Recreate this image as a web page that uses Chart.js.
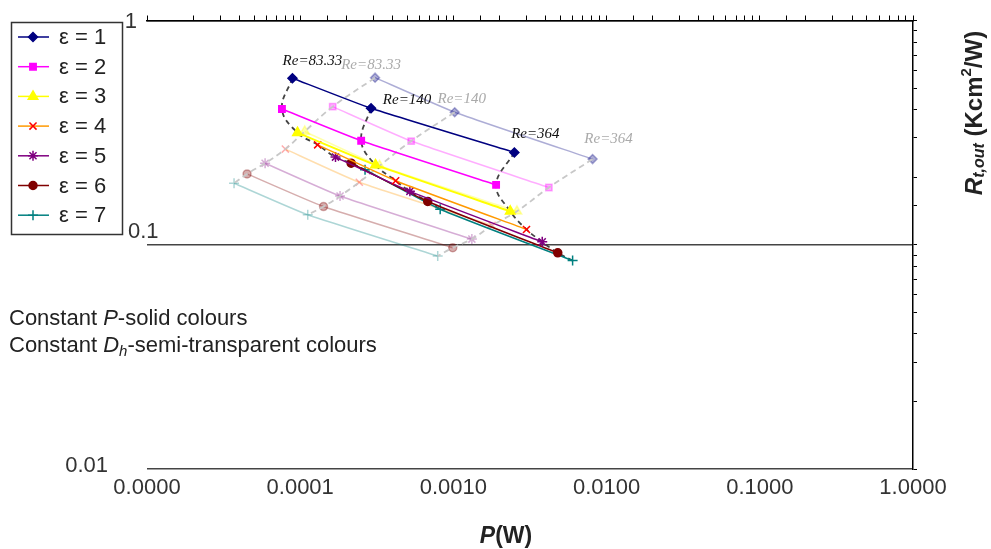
<!DOCTYPE html>
<html>
<head>
<meta charset="utf-8">
<script src="https://cdn.jsdelivr.net/npm/chart.js@4.4.1/dist/chart.umd.min.js"></script>
<style>
  html, body { margin: 0; padding: 0; background: #fff; }
  #wrap { width: 991px; height: 549px; }
</style>
</head>
<body>
<div id="wrap"><canvas id="myChart" width="991" height="549"></canvas></div>
<script>
// series names and Re labels
const epsLabels = ['ε = 1', 'ε = 2', 'ε = 3', 'ε = 4', 'ε = 5', 'ε = 6', 'ε = 7'];
const reLabels = ['Re=83.33', 'Re=140', 'Re=364'];

// axis ticks
const xTickValues = [1e-5, 1e-4, 1e-3, 1e-2, 1e-1, 1];
const yTickValues = [0.01, 0.1, 1];
const yTickLabels = ['0.01', '0.1', '1'];

// constant P (solid colours): P (W) and Rt,out for Re = 83.33, 140, 364
const solidP = [
  [8.9e-5, 2.9e-4, 2.5e-3],
  [7.6e-5, 2.5e-4, 1.9e-3],
  [9.6e-5, 3.1e-4, 2.35e-3],
  [1.3e-4, 4.2e-4, 3.0e-3],
  [1.7e-4, 5.2e-4, 3.8e-3],
  [2.15e-4, 6.8e-4, 4.8e-3],
  [2.65e-4, 8.2e-4, 6.0e-3]
];
const solidR = [
  [0.553, 0.406, 0.258],
  [0.403, 0.291, 0.185],
  [0.316, 0.227, 0.141],
  [0.279, 0.193, 0.117],
  [0.246, 0.173, 0.103],
  [0.231, 0.156, 0.092],
  [0.216, 0.144, 0.085]
];

// constant Dh (semi-transparent colours)
const fadedP = [
  [3.08e-4, 1.02e-3, 8.1e-3],
  [1.63e-4, 5.3e-4, 4.2e-3],
  [1.07e-4, 3.3e-4, 2.6e-3],
  [8.0e-5, 2.43e-4, 1.79e-3],
  [5.9e-5, 1.82e-4, 1.32e-3],
  [4.5e-5, 1.42e-4, 9.9e-4],
  [3.7e-5, 1.12e-4, 7.9e-4]
];
const fadedR = [
  [0.556, 0.390, 0.241],
  [0.413, 0.290, 0.180],
  [0.320, 0.225, 0.141],
  [0.267, 0.190, 0.122],
  [0.231, 0.165, 0.106],
  [0.207, 0.148, 0.097],
  [0.188, 0.136, 0.089]
];

// styles
const lineColors = ['#000080', '#ff00ff', '#ffff00', '#ff9900', '#800080', '#800000', '#008080'];
const markerColors = ['#000080', '#ff00ff', '#ffff00', '#ff0000', '#800080', '#800000', '#008080'];
const markerStyles = ['rectRot', 'rect', 'triangle', 'crossRot', 'star', 'circle', 'cross'];
const markerSizes = [4.5, 4.5, 5.5, 5, 5, 4, 5];
// label offsets (px) from the ε = 1 point of each Re column
const reOffsetsSolid = [[20, -17], [36, -8], [21, -18]];
const reOffsetsFaded = [[-4, -13], [7, -13], [16, -20]];

const FONT = '"Liberation Sans", Arial, sans-serif';

function fade(hex, a) {
  const n = parseInt(hex.slice(1), 16);
  return `rgba(${(n >> 16) & 255}, ${(n >> 8) & 255}, ${n & 255}, ${a})`;
}

function toPoints(px, ry) {
  return px.map((p, i) => ({ x: p, y: ry[i] }));
}

const datasets = [];

epsLabels.forEach((lab, i) => {
  datasets.push({
    label: lab,
    data: toPoints(solidP[i], solidR[i]),
    borderColor: lineColors[i],
    borderWidth: i === 2 ? 2 : 1.5,
    tension: 0.15,
    pointStyle: markerStyles[i],
    pointRadius: markerSizes[i],
    pointBackgroundColor: markerColors[i],
    pointBorderColor: markerColors[i],
    pointBorderWidth: 1.5,
    order: 1
  });
  datasets.push({
    label: lab + ' (Dh)',
    data: toPoints(fadedP[i], fadedR[i]),
    borderColor: fade(lineColors[i], 0.32),
    borderWidth: 1.5,
    tension: 0.15,
    pointStyle: markerStyles[i],
    pointRadius: markerSizes[i],
    pointBackgroundColor: fade(markerColors[i], 0.32),
    pointBorderColor: fade(markerColors[i], 0.32),
    pointBorderWidth: 1.5,
    order: 4
  });
});

// iso-Re dashed curves through each column
reLabels.forEach((re, j) => {
  datasets.push({
    label: re,
    data: solidP.map((p, i) => ({ x: p[j], y: solidR[i][j] })),
    borderColor: '#444',
    borderWidth: 1.8,
    borderDash: [5, 4],
    tension: 0.4,
    pointRadius: 0,
    order: 2
  });
  datasets.push({
    label: re + ' (Dh)',
    data: fadedP.map((p, i) => ({ x: p[j], y: fadedR[i][j] })),
    borderColor: '#c8c8c8',
    borderWidth: 1.8,
    borderDash: [6, 4],
    tension: 0.4,
    pointRadius: 0,
    order: 3
  });
});

function drawRich(ctx, parts, x, y, align) {
  let total = 0;
  parts.forEach(p => { ctx.font = p.font; total += ctx.measureText(p.t).width; });
  let cx = align === 'center' ? x - total / 2 : x;
  ctx.textAlign = 'left';
  ctx.textBaseline = 'middle';
  parts.forEach(p => {
    ctx.font = p.font;
    ctx.fillText(p.t, cx, y + (p.dy || 0));
    cx += ctx.measureText(p.t).width;
  });
}

const extras = {
  id: 'extras',
  afterDraw(chart) {
    const ctx = chart.ctx;
    const xs = chart.scales.x;
    const ys = chart.scales.y;
    const area = chart.chartArea;
    ctx.save();

    // left tick labels
    const yLabelPos = [
      { align: 'right', dx: -39, dy: -3 },
      { align: 'left', dx: -19, dy: -13 },
      { align: 'right', dx: -10, dy: 1 }
    ];
    ctx.fillStyle = '#333';
    ctx.font = '22px ' + FONT;
    ctx.textBaseline = 'middle';
    yTickValues.forEach((v, k) => {
      ctx.textAlign = yLabelPos[k].align;
      ctx.fillText(yTickLabels[k], area.left + yLabelPos[k].dx, ys.getPixelForValue(v) + yLabelPos[k].dy);
    });

    // Re labels
    ctx.font = 'italic 15px "Liberation Serif", "Times New Roman", serif';
    ctx.textAlign = 'center';
    reLabels.forEach((re, j) => {
      ctx.fillStyle = '#aaa';
      ctx.fillText(re, xs.getPixelForValue(fadedP[0][j]) + reOffsetsFaded[j][0],
        ys.getPixelForValue(fadedR[0][j]) + reOffsetsFaded[j][1]);
      ctx.fillStyle = '#111';
      ctx.fillText(re, xs.getPixelForValue(solidP[0][j]) + reOffsetsSolid[j][0],
        ys.getPixelForValue(solidR[0][j]) + reOffsetsSolid[j][1]);
    });

    // legend
    ctx.fillStyle = '#fff';
    ctx.fillRect(11, 22, 112, 213);
    ctx.strokeStyle = '#333';
    ctx.lineWidth = 1.5;
    ctx.strokeRect(11.5, 22.5, 111, 212);
    epsLabels.forEach((lab, i) => {
      const y = 37 + i * 29.7;
      ctx.strokeStyle = lineColors[i];
      ctx.lineWidth = 1.5;
      ctx.setLineDash([]);
      ctx.beginPath();
      ctx.moveTo(18, y);
      ctx.lineTo(49, y);
      ctx.stroke();
      ctx.fillStyle = markerColors[i];
      ctx.strokeStyle = markerColors[i];
      Chart.helpers.drawPoint(ctx, {
        pointStyle: markerStyles[i], radius: markerSizes[i], rotation: 0, borderWidth: 1.5
      }, 33, y);
      ctx.fillStyle = '#222';
      ctx.font = '22px ' + FONT;
      ctx.textAlign = 'left';
      ctx.textBaseline = 'middle';
      ctx.fillText(lab, 59, y + 1);
    });

    // notes
    ctx.fillStyle = '#222';
    drawRich(ctx, [
      { t: 'Constant ', font: '22px ' + FONT },
      { t: 'P', font: 'italic 22px ' + FONT },
      { t: '-solid colours', font: '22px ' + FONT }
    ], 9, 319, 'left');
    drawRich(ctx, [
      { t: 'Constant ', font: '22px ' + FONT },
      { t: 'D', font: 'italic 22px ' + FONT },
      { t: 'h', font: 'italic 15px ' + FONT, dy: 6 },
      { t: '-semi-transparent colours', font: '22px ' + FONT }
    ], 9, 346, 'left');

    // x title
    drawRich(ctx, [
      { t: 'P', font: 'italic bold 23px ' + FONT },
      { t: '(W)', font: 'bold 23px ' + FONT }
    ], 506, 537, 'center');

    // right title
    ctx.translate(975, 113);
    ctx.rotate(-Math.PI / 2);
    drawRich(ctx, [
      { t: 'R', font: 'italic bold 24px ' + FONT },
      { t: 't,out', font: 'italic bold 16px ' + FONT, dy: 5 },
      { t: ' (Kcm', font: 'bold 24px ' + FONT },
      { t: '2', font: 'bold 15px ' + FONT, dy: -8 },
      { t: '/W)', font: 'bold 24px ' + FONT }
    ], 0, 0, 'center');

    ctx.restore();
  }
};

new Chart(document.getElementById('myChart').getContext('2d'), {
  type: 'line',
  data: { datasets },
  options: {
    responsive: false,
    devicePixelRatio: 1,
    animation: false,
    layout: { padding: 0 },
    plugins: { legend: { display: false }, tooltip: { enabled: false } },
    scales: {
      x: {
        type: 'logarithmic',
        position: 'bottom',
        min: 1e-5,
        max: 1,
        afterBuildTicks: s => { s.ticks = xTickValues.map(v => ({ value: v })); },
        afterFit: s => { s.height = 80; },
        grid: { display: false, drawTicks: false, tickLength: 0 },
        border: { display: false },
        ticks: {
          autoSkip: false,
          maxRotation: 0,
          padding: 6,
          color: '#333',
          font: { family: FONT, size: 22 },
          callback: v => Number(v).toFixed(4)
        }
      },
      xTop: {
        type: 'logarithmic',
        position: 'top',
        min: 1e-5,
        max: 1,
        afterFit: s => { s.height = 20.5; },
        grid: { drawOnChartArea: false, drawTicks: true, tickLength: 5, color: '#000', lineWidth: 1 },
        border: { display: true, color: '#000', width: 1.5 },
        ticks: { display: false, autoSkip: false }
      },
      y: {
        type: 'logarithmic',
        position: 'left',
        min: 0.01,
        max: 1,
        afterBuildTicks: s => { s.ticks = yTickValues.map(v => ({ value: v })); },
        afterFit: s => { s.width = 147; },
        grid: { color: '#444', lineWidth: 1.5, drawTicks: false },
        border: { display: false },
        ticks: { display: false }
      },
      yRight: {
        type: 'logarithmic',
        position: 'right',
        min: 0.01,
        max: 1,
        afterFit: s => { s.width = 78; },
        grid: { drawOnChartArea: false, drawTicks: true, tickLength: 4, color: '#000', lineWidth: 1 },
        border: { display: true, color: '#000', width: 1.5 },
        ticks: { display: false, autoSkip: false }
      }
    }
  },
  plugins: [extras]
});
</script>
</body>
</html>
